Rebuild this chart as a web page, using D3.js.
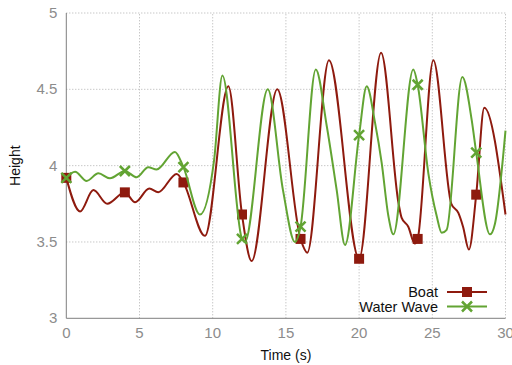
<!DOCTYPE html>
<html lang="en">
<head>
    <meta charset="UTF-8">
    <title>Boat and Water Wave</title>
    <script src="https://d3js.org/d3.v7.min.js"></script>
    <style>
        body {
            margin: 0;
            background: #fff;
        }
        svg {
            display: block;
            font-family: "Liberation Sans", Arial, sans-serif;
        }
        .grid-line {
            stroke: #b0b0b0;
            stroke-width: 1;
            stroke-dasharray: 1, 2;
        }
        .axis-line {
            stroke: #7f7f7f;
            stroke-width: 1;
        }
        .tick-label {
            fill: #8c8c8c;
            font-size: 15px;
        }
        .title {
            fill: #111;
            font-size: 14px;
        }
        .legend-label {
            fill: #111;
            font-size: 14.5px;
        }
    </style>
</head>
<body>
    <script>
        // time (s) / height pairs
        const boatTime = [0, 0.94, 1.85, 2.8, 4, 4.7, 5.67, 6.28, 7.54, 8, 9.47, 11.07, 12, 12.66,
            14.41, 16, 16.46, 17.94, 20, 21.5, 22.7, 22.9, 23.36, 23.8, 24, 25.07, 26.3, 26.78,
            27.1, 27.5, 28, 28.55, 30];
        const boatHeight = [3.92, 3.70, 3.84, 3.75, 3.825, 3.76, 3.85, 3.826, 3.946, 3.89, 3.54, 4.52, 3.68, 3.375,
            4.50, 3.52, 3.43, 4.69, 3.39, 4.74, 3.75, 3.66, 3.60, 3.49, 3.52, 4.69, 3.75, 3.69,
            3.60, 3.45, 3.81, 4.38, 3.68];

        const waveTime = [0, 0.6, 1.39, 2.19, 2.98, 4, 4.81, 5.6, 6.17, 7.42, 8, 9.13, 10.1, 10.66,
            12, 12.2, 13.76, 14.8, 15.62, 16, 17.04, 17.79, 18.47, 19.04, 20, 20.52, 21.09, 21.54,
            22, 22.34, 23.7, 24, 24.73, 25.3, 25.64, 25.98, 27.05, 27.69, 28, 28.94, 29.28, 30];
        const waveHeight = [3.92, 3.96, 3.90, 3.95, 3.917, 3.965, 3.924, 3.99, 3.975, 4.09, 3.99, 3.68, 4.04, 4.59,
            3.52, 3.50, 4.50, 3.84, 3.50, 3.60, 4.63, 4.26, 3.84, 3.48, 4.20, 4.52, 4.28, 4.02,
            3.67, 3.55, 4.63, 4.53, 3.95, 3.67, 3.56, 3.58, 4.58, 4.30, 4.085, 3.55, 3.62, 4.23];

        const markerTimes = [0, 4, 8, 12, 16, 20, 24, 28];
        const xTicks = [0, 5, 10, 15, 20, 25, 30];
        const yTicks = [3, 3.5, 4, 4.5, 5];
        const seriesNames = ["Boat", "Water Wave"];
        const seriesColors = ["#8e1a0e", "#62a433"];

        const width = 512, height = 365;
        const margin = {top: 13, right: 6.5, bottom: 46.7, left: 66.3};

        const svg = d3.select("body").append("svg")
            .attr("width", width)
            .attr("height", height);

        const x = d3.scaleLinear().domain([0, 30]).range([margin.left, width - margin.right]);
        const y = d3.scaleLinear().domain([3, 5]).range([height - margin.bottom, margin.top]);

        // dotted grid
        svg.append("g").selectAll("line").data(xTicks.slice(1)).join("line")
            .attr("class", "grid-line")
            .attr("x1", d => x(d)).attr("x2", d => x(d))
            .attr("y1", y(3)).attr("y2", y(5));
        svg.append("g").selectAll("line").data(yTicks.slice(1)).join("line")
            .attr("class", "grid-line")
            .attr("x1", x(0)).attr("x2", x(30))
            .attr("y1", d => y(d)).attr("y2", d => y(d));

        // left + bottom axis lines
        svg.append("line").attr("class", "axis-line")
            .attr("x1", x(0)).attr("x2", x(0)).attr("y1", y(3)).attr("y2", y(5));
        svg.append("line").attr("class", "axis-line")
            .attr("x1", x(0)).attr("x2", x(30)).attr("y1", y(3)).attr("y2", y(3));

        svg.append("g").selectAll("text").data(yTicks).join("text")
            .attr("class", "tick-label")
            .attr("x", x(0) - 9)
            .attr("y", d => y(d) + 5)
            .attr("text-anchor", "end")
            .text(d => d);
        svg.append("g").selectAll("text").data(xTicks).join("text")
            .attr("class", "tick-label")
            .attr("x", d => x(d))
            .attr("y", y(3) + 20)
            .attr("text-anchor", "middle")
            .text(d => d);

        svg.append("text").attr("class", "title")
            .attr("transform", `translate(20,${y(4)}) rotate(-90)`)
            .attr("text-anchor", "middle")
            .text("Height");
        svg.append("text").attr("class", "title")
            .attr("x", x(15)).attr("y", 360)
            .attr("text-anchor", "middle")
            .text("Time (s)");

        const boat = boatTime.map((t, i) => ({t: t, v: boatHeight[i]}));
        const wave = waveTime.map((t, i) => ({t: t, v: waveHeight[i]}));

        const line = d3.line()
            .x(d => x(d.t))
            .y(d => y(d.v))
            .curve(d3.curveMonotoneX);

        const square = d3.symbol().type(d3.symbolSquare).size(100);

        function drawBoatMarker(g) {
            g.append("path").attr("d", square).attr("fill", seriesColors[0]);
        }
        function drawWaveMarker(g) {
            g.append("path")
                .attr("d", "M-5,-5L5,5M-5,5L5,-5")
                .attr("stroke", seriesColors[1])
                .attr("stroke-width", 2.5)
                .attr("fill", "none");
        }

        [boat, wave].forEach((data, i) => {
            svg.append("path")
                .datum(data)
                .attr("d", line)
                .attr("fill", "none")
                .attr("stroke", seriesColors[i])
                .attr("stroke-width", 2);

            svg.append("g").selectAll("g")
                .data(data.filter(d => markerTimes.includes(d.t)))
                .join("g")
                .attr("transform", d => `translate(${x(d.t)},${y(d.v)})`)
                .each(function () { i === 0 ? drawBoatMarker(d3.select(this)) : drawWaveMarker(d3.select(this)); });
        });

        // legend
        const legend = svg.append("g").attr("transform", "translate(438,292)");
        seriesNames.forEach((name, i) => {
            const row = legend.append("g").attr("transform", `translate(0,${i * 14.5})`);
            row.append("text").attr("class", "legend-label")
                .attr("x", 0).attr("y", 5)
                .attr("text-anchor", "end")
                .text(name);
            row.append("line")
                .attr("x1", 9).attr("x2", 49)
                .attr("stroke", seriesColors[i]).attr("stroke-width", 2);
            const m = row.append("g").attr("transform", "translate(29,0)");
            i === 0 ? drawBoatMarker(m) : drawWaveMarker(m);
        });
    </script>
</body>
</html>
